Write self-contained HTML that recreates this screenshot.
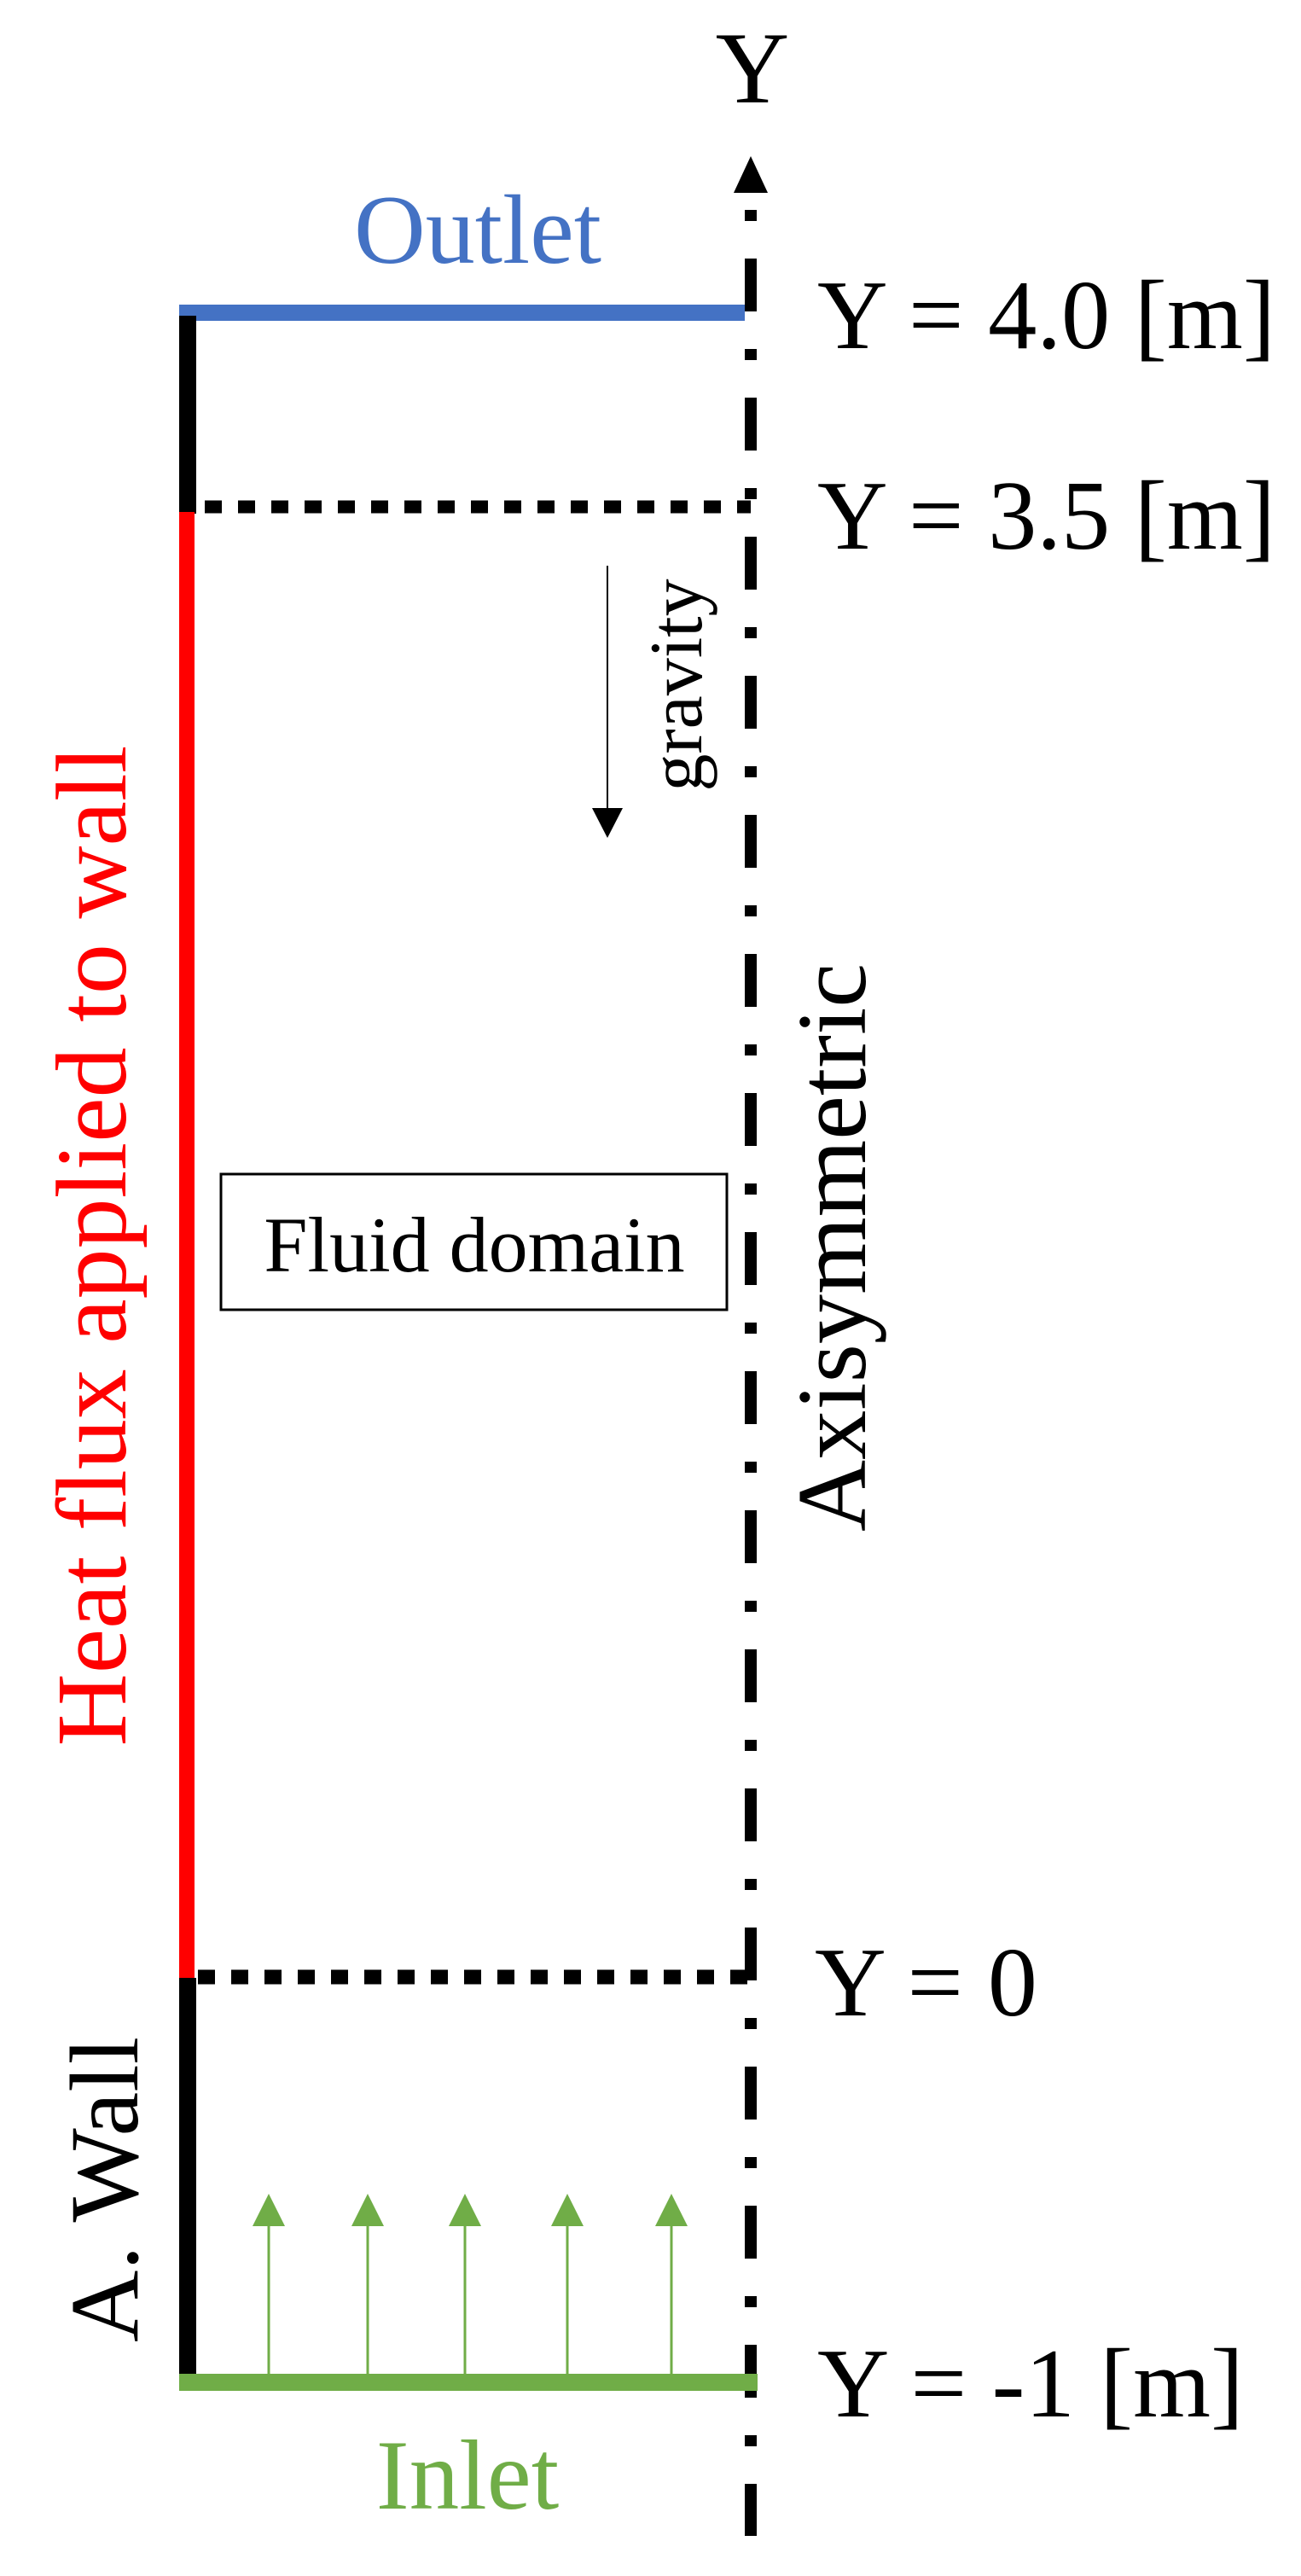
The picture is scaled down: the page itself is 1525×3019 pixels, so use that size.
<!DOCTYPE html>
<html><head><meta charset="utf-8"><style>
html,body{margin:0;padding:0;background:#fff;}
svg{display:block;}
text{font-family:"Liberation Serif",serif;}
</style></head><body>
<svg width="1525" height="3019" viewBox="0 0 1525 3019" xmlns="http://www.w3.org/2000/svg">
<rect width="1525" height="3019" fill="#fff"/>
<!-- axis -->
<line x1="880" y1="246" x2="880" y2="2972" stroke="#000" stroke-width="14" stroke-dasharray="13 44 62 44"/>
<polygon points="880,183 860,226 900,226" fill="#000"/>
<text x="882" y="120" font-size="120" text-anchor="middle">Y</text>
<!-- outlet -->
<rect x="210" y="357" width="663" height="19" fill="#4472C4"/>
<text x="560" y="308" font-size="116" fill="#4472C4" text-anchor="middle">Outlet</text>
<!-- walls -->
<rect x="210" y="370" width="20" height="232" fill="#000"/>
<rect x="210" y="600" width="18" height="1720" fill="#ff0000"/>
<rect x="210" y="2318" width="20" height="484" fill="#000"/>
<!-- dotted lines -->
<line x1="240" y1="594" x2="880" y2="594" stroke="#000" stroke-width="15" stroke-dasharray="20 19"/>
<line x1="232" y1="2317" x2="880" y2="2317" stroke="#000" stroke-width="17" stroke-dasharray="20 19"/>
<!-- inlet -->
<rect x="210" y="2782" width="678" height="20" fill="#70AD47"/>
<text x="548" y="2940" font-size="117" fill="#70AD47" text-anchor="middle">Inlet</text>
<g stroke="#70AD47" stroke-width="3">
<line x1="315" y1="2782" x2="315" y2="2600"/>
<line x1="431" y1="2782" x2="431" y2="2600"/>
<line x1="545" y1="2782" x2="545" y2="2600"/>
<line x1="665" y1="2782" x2="665" y2="2600"/>
<line x1="787" y1="2782" x2="787" y2="2600"/>
</g>
<g fill="#70AD47">
<polygon points="315,2571 296,2609 334,2609"/>
<polygon points="431,2571 412,2609 450,2609"/>
<polygon points="545,2571 526,2609 564,2609"/>
<polygon points="665,2571 646,2609 684,2609"/>
<polygon points="787,2571 768,2609 806,2609"/>
</g>
<!-- labels right -->
<text x="958" y="408" font-size="116" textLength="537" lengthAdjust="spacingAndGlyphs">Y = 4.0 [m]</text>
<text x="958" y="643" font-size="116" textLength="537" lengthAdjust="spacingAndGlyphs">Y = 3.5 [m]</text>
<text x="955" y="2362" font-size="116">Y = 0</text>
<text x="958" y="2832" font-size="116" textLength="500" lengthAdjust="spacingAndGlyphs">Y = -1 [m]</text>
<!-- gravity -->
<line x1="712" y1="663" x2="712" y2="950" stroke="#000" stroke-width="2"/>
<polygon points="712,982 694,947 730,947" fill="#000"/>
<text transform="translate(822,803) rotate(-90)" font-size="88" text-anchor="middle">gravity</text>
<!-- fluid domain -->
<rect x="259" y="1376" width="593" height="159" fill="none" stroke="#000" stroke-width="3"/>
<text x="556" y="1490" font-size="92" text-anchor="middle">Fluid domain</text>
<!-- rotated labels -->
<text transform="translate(147,1460) rotate(-90)" font-size="118" fill="#ff0000" text-anchor="middle" textLength="1173" lengthAdjust="spacingAndGlyphs">Heat flux applied to wall</text>
<text transform="translate(1014,1462) rotate(-90)" font-size="115" text-anchor="middle" textLength="666" lengthAdjust="spacingAndGlyphs">Axisymmetric</text>
<text transform="translate(161,2566) rotate(-90)" font-size="114" text-anchor="middle" textLength="358" lengthAdjust="spacingAndGlyphs">A. Wall</text>
</svg>
</body></html>
